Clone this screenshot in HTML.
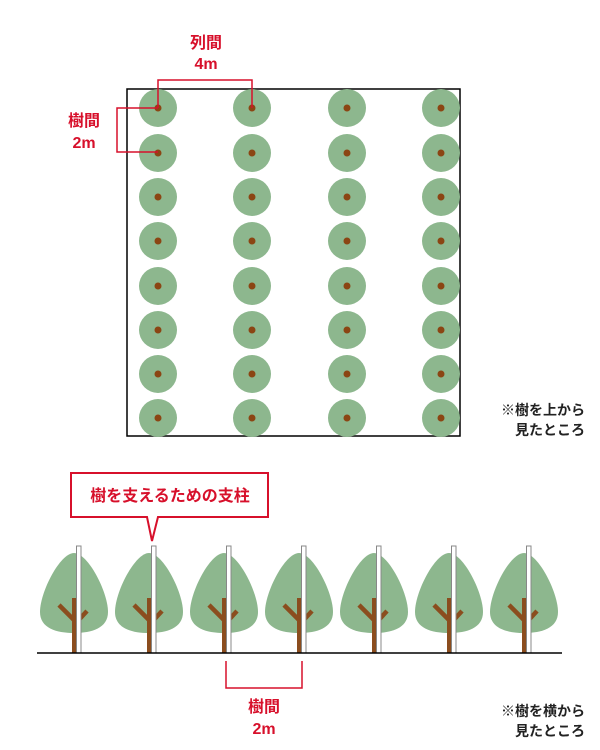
<!DOCTYPE html>
<html><head><meta charset="utf-8"><style>
html,body{margin:0;padding:0;background:#fff;}
svg{display:block;}
text{font-family:"Liberation Sans","Noto Sans CJK JP",sans-serif;font-weight:bold;}
</style></head><body>
<svg width="600" height="750" viewBox="0 0 600 750" xmlns="http://www.w3.org/2000/svg">
<defs>
<g id="c"><circle r="19" fill="#8db78e"/><circle r="3.5" fill="#8b4513"/></g>
<g id="t">
<path d="M0,553 C14,553 34,592 34,612 C34,628 18,633 0,633 C-18,633 -34,628 -34,612 C-34,592 -14,553 0,553Z" fill="#8db78e"/>
<rect x="-2" y="598" width="4.5" height="55" fill="#8b4d1e"/>
<path d="M-15,605 L0,620" stroke="#8b4d1e" stroke-width="4.5"/>
<path d="M1,624 L13,611" stroke="#8b4d1e" stroke-width="4.5"/>
<rect x="2.5" y="546" width="4.5" height="107" fill="#fff" stroke="#888" stroke-width="1"/>
</g>
</defs>
<rect x="127" y="89" width="333" height="347" fill="none" stroke="#000" stroke-width="1.5"/>
<g>
<use href="#c" x="158" y="108"/><use href="#c" x="252" y="108"/><use href="#c" x="347" y="108"/><use href="#c" x="441" y="108"/>
<use href="#c" x="158" y="153"/><use href="#c" x="252" y="153"/><use href="#c" x="347" y="153"/><use href="#c" x="441" y="153"/>
<use href="#c" x="158" y="197"/><use href="#c" x="252" y="197"/><use href="#c" x="347" y="197"/><use href="#c" x="441" y="197"/>
<use href="#c" x="158" y="241"/><use href="#c" x="252" y="241"/><use href="#c" x="347" y="241"/><use href="#c" x="441" y="241"/>
<use href="#c" x="158" y="286"/><use href="#c" x="252" y="286"/><use href="#c" x="347" y="286"/><use href="#c" x="441" y="286"/>
<use href="#c" x="158" y="330"/><use href="#c" x="252" y="330"/><use href="#c" x="347" y="330"/><use href="#c" x="441" y="330"/>
<use href="#c" x="158" y="374"/><use href="#c" x="252" y="374"/><use href="#c" x="347" y="374"/><use href="#c" x="441" y="374"/>
<use href="#c" x="158" y="418"/><use href="#c" x="252" y="418"/><use href="#c" x="347" y="418"/><use href="#c" x="441" y="418"/>
</g>
<path d="M158,108 V80 H252 V108" fill="none" stroke="#d7102b" stroke-width="1.5"/>
<path d="M158,108 H117 V152 H158" fill="none" stroke="#d7102b" stroke-width="1.5"/>
<text x="206" y="48" font-size="16" fill="#d7102b" text-anchor="middle">列間</text>
<text x="206" y="69" font-size="16" fill="#d7102b" text-anchor="middle">4m</text>
<text x="84" y="126" font-size="16" fill="#d7102b" text-anchor="middle">樹間</text>
<text x="84" y="148" font-size="16" fill="#d7102b" text-anchor="middle">2m</text>
<text x="585" y="415" font-size="14" fill="#222" text-anchor="end">※樹を上から</text>
<text x="585" y="435" font-size="14" fill="#222" text-anchor="end">見たところ</text>

<path d="M71,473 H268 V517 H158 L152,541 L147,517 H71 Z" fill="#fff" stroke="#d7102b" stroke-width="2"/>
<text x="170" y="501" font-size="16" fill="#d7102b" text-anchor="middle">樹を支えるための支柱</text>

<use href="#t" x="74"/><use href="#t" x="149"/><use href="#t" x="224"/><use href="#t" x="299"/>
<use href="#t" x="374"/><use href="#t" x="449"/><use href="#t" x="524"/>
<line x1="37" y1="653" x2="562" y2="653" stroke="#000" stroke-width="1.5"/>
<path d="M226,661 V688 H302 V661" fill="none" stroke="#d7102b" stroke-width="1.5"/>
<text x="264" y="712" font-size="16" fill="#d7102b" text-anchor="middle">樹間</text>
<text x="264" y="734" font-size="16" fill="#d7102b" text-anchor="middle">2m</text>
<text x="585" y="716" font-size="14" fill="#222" text-anchor="end">※樹を横から</text>
<text x="585" y="736" font-size="14" fill="#222" text-anchor="end">見たところ</text>
</svg>
</body></html>
